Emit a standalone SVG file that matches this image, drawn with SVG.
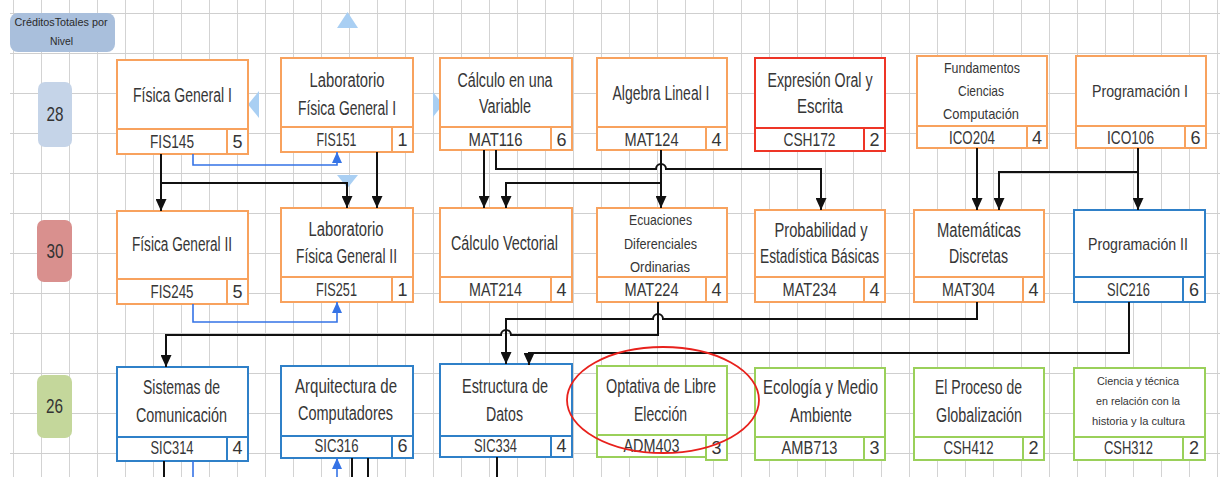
<svg xmlns="http://www.w3.org/2000/svg" width="1220" height="477" viewBox="0 0 1220 477">
<style>
.bx{fill:#fff;stroke-width:2}
.or{stroke:#f8a25e}
.rd{stroke:#ee3526}
.bl{stroke:#2f80c8}
.gr{stroke:#9ad05a}
.t{font-family:"Liberation Sans Narrow","Liberation Sans",Arial,sans-serif;fill:#363636;text-anchor:middle}
.tl{font-size:19.5px}
.tm{font-size:17px}
.ts{font-size:15px}
.tx{font-size:11px}
.cd{font-size:18px}
.lv{font-size:20px;fill:#333}
.hd{font-size:10.5px;fill:#2a2a2a}
.k{fill:none;stroke:#111;stroke-width:2;marker-end:url(#ak)}
.kn{fill:none;stroke:#111;stroke-width:2}
.b{fill:none;stroke:#3573e6;stroke-width:1.6;marker-end:url(#ab)}
.bn{fill:none;stroke:#3573e6;stroke-width:1.6}
.hdl{fill:#a9cff3}
</style>
<defs>
<pattern id="grid" patternUnits="userSpaceOnUse" x="13" y="13" width="28" height="40">
<path d="M0,0 V40 M0,0 H28" fill="none" stroke="#cfcfcf" stroke-width="1.8"/>
</pattern>
<marker id="ak" markerUnits="userSpaceOnUse" markerWidth="13" markerHeight="11" refX="12" refY="5.5" orient="auto">
<path d="M0,0 L12,5.5 L0,11 z" fill="#111"/>
</marker>
<marker id="ab" markerUnits="userSpaceOnUse" markerWidth="12" markerHeight="10" refX="11" refY="5" orient="auto">
<path d="M0,0 L11,5 L0,10 z" fill="#3573e6"/>
</marker>
</defs>
<rect width="1220" height="477" fill="#fff"/>
<rect x="10" y="0" width="1210" height="477" fill="url(#grid)"/>

<g id="levels">
<g id="header">
<rect x="10" y="13" width="105" height="39" rx="8" fill="#a9bfdc"/>
<text class="t hd" x="61" y="26" textLength="93" lengthAdjust="spacingAndGlyphs">CréditosTotales por</text>
<text class="t hd" x="61.5" y="45" textLength="23" lengthAdjust="spacingAndGlyphs">Nivel</text>
</g>
<g id="lvl28"><rect x="38" y="82" width="34" height="65" rx="7" fill="#c5d4e8"/><text class="t lv" x="55" y="121" textLength="17" lengthAdjust="spacingAndGlyphs">28</text></g>
<g id="lvl30"><rect x="37" y="220" width="35" height="62" rx="7" fill="#d9908e"/><text class="t lv" x="55" y="258" textLength="17" lengthAdjust="spacingAndGlyphs">30</text></g>
<g id="lvl26"><rect x="37" y="375" width="35" height="63" rx="7" fill="#c4d79b"/><text class="t lv" x="54.5" y="413" textLength="17" lengthAdjust="spacingAndGlyphs">26</text></g>
</g>

<g id="handles">
<polygon class="hdl" points="337,28 358,28 347.5,12"/>
<polygon class="hdl" points="259,91 259,118 248,104.5"/>
<polygon class="hdl" points="433,92 433,117 443,104.5"/>
<polygon class="hdl" points="337,175 358,175 347.5,188"/>
</g>

<!-- Row 1 -->
<g id="FIS145">
<rect class="bx or" x="117" y="60" width="131" height="94"/>
<path class="or" d="M117,129 H248 M227,129 V154" stroke-width="2" fill="none"/>
<text class="t tl" x="182.5" y="102" textLength="99" lengthAdjust="spacingAndGlyphs">Física General I</text>
<text class="t cd" x="172" y="148" textLength="44" lengthAdjust="spacingAndGlyphs">FIS145</text>
<text class="t cd" x="237.5" y="148">5</text>
</g>
<g id="FIS151">
<rect class="bx or" x="281" y="58" width="132" height="94"/>
<path class="or" d="M281,127 H413 M392,127 V152" stroke-width="2" fill="none"/>
<text class="t tl" x="347" y="87" textLength="75" lengthAdjust="spacingAndGlyphs">Laboratorio</text>
<text class="t tl" x="347" y="115" textLength="98" lengthAdjust="spacingAndGlyphs">Física General I</text>
<text class="t cd" x="336.5" y="146" textLength="40" lengthAdjust="spacingAndGlyphs">FIS151</text>
<text class="t cd" x="402.5" y="146">1</text>
</g>
<g id="MAT116">
<rect class="bx or" x="440" y="58" width="132" height="92"/>
<path class="or" d="M440,127 H572 M551,127 V150" stroke-width="2" fill="none"/>
<text class="t tl" x="505" y="87" textLength="95" lengthAdjust="spacingAndGlyphs">Cálculo en una</text>
<text class="t tl" x="505" y="113" textLength="52" lengthAdjust="spacingAndGlyphs">Variable</text>
<text class="t cd" x="495.5" y="146" textLength="54" lengthAdjust="spacingAndGlyphs">MAT116</text>
<text class="t cd" x="561.5" y="146">6</text>
</g>
<g id="MAT124">
<rect class="bx or" x="597" y="58" width="130" height="92"/>
<path class="or" d="M597,127 H727 M706,127 V150" stroke-width="2" fill="none"/>
<text class="t tl" x="661" y="100" textLength="97" lengthAdjust="spacingAndGlyphs">Algebra Lineal I</text>
<text class="t cd" x="651.5" y="146" textLength="54" lengthAdjust="spacingAndGlyphs">MAT124</text>
<text class="t cd" x="716.5" y="146">4</text>
</g>
<g id="CSH172">
<rect class="bx rd" x="755" y="58" width="130" height="93"/>
<path class="rd" d="M755,128 H885 M864,128 V151" stroke-width="2" fill="none"/>
<text class="t tl" x="820" y="87" textLength="105" lengthAdjust="spacingAndGlyphs">Expresión Oral y</text>
<text class="t tl" x="820" y="113" textLength="46" lengthAdjust="spacingAndGlyphs">Escrita</text>
<text class="t cd" x="809.5" y="146" textLength="52" lengthAdjust="spacingAndGlyphs">CSH172</text>
<text class="t cd" x="874.5" y="146">2</text>
</g>
<g id="ICO204">
<rect class="bx or" x="917" y="56" width="130" height="92"/>
<path class="or" d="M917,126 H1047 M1027,126 V148" stroke-width="2" fill="none"/>
<text class="t ts" x="982" y="73" textLength="76" lengthAdjust="spacingAndGlyphs">Fundamentos</text>
<text class="t ts" x="981" y="96" textLength="46" lengthAdjust="spacingAndGlyphs">Ciencias</text>
<text class="t ts" x="981" y="119" textLength="76" lengthAdjust="spacingAndGlyphs">Computación</text>
<text class="t cd" x="972" y="144" textLength="46" lengthAdjust="spacingAndGlyphs">ICO204</text>
<text class="t cd" x="1037" y="144">4</text>
</g>
<g id="ICO106">
<rect class="bx or" x="1076" y="56" width="130" height="92"/>
<path class="or" d="M1076,126 H1206 M1185,126 V148" stroke-width="2" fill="none"/>
<text class="t tm" x="1140" y="97" textLength="96" lengthAdjust="spacingAndGlyphs">Programación I</text>
<text class="t cd" x="1130.5" y="144" textLength="47" lengthAdjust="spacingAndGlyphs">ICO106</text>
<text class="t cd" x="1195.5" y="144">6</text>
</g>

<!-- Row 2 -->
<g id="FIS245">
<rect class="bx or" x="117" y="211" width="131" height="93"/>
<path class="or" d="M117,279 H248 M227,279 V304" stroke-width="2" fill="none"/>
<text class="t tl" x="182" y="251" textLength="100" lengthAdjust="spacingAndGlyphs">Física General II</text>
<text class="t cd" x="172" y="298" textLength="43" lengthAdjust="spacingAndGlyphs">FIS245</text>
<text class="t cd" x="237.5" y="298">5</text>
</g>
<g id="FIS251">
<rect class="bx or" x="281" y="208" width="132" height="94"/>
<path class="or" d="M281,277 H413 M392,277 V302" stroke-width="2" fill="none"/>
<text class="t tl" x="346" y="236" textLength="75" lengthAdjust="spacingAndGlyphs">Laboratorio</text>
<text class="t tl" x="346.5" y="263" textLength="101" lengthAdjust="spacingAndGlyphs">Física General II</text>
<text class="t cd" x="336.5" y="296" textLength="41" lengthAdjust="spacingAndGlyphs">FIS251</text>
<text class="t cd" x="402.5" y="296">1</text>
</g>
<g id="MAT214">
<rect class="bx or" x="440" y="208" width="132" height="94"/>
<path class="or" d="M440,277 H572 M551,277 V302" stroke-width="2" fill="none"/>
<text class="t tl" x="504.5" y="250" textLength="107" lengthAdjust="spacingAndGlyphs">Cálculo Vectorial</text>
<text class="t cd" x="495.5" y="296" textLength="53" lengthAdjust="spacingAndGlyphs">MAT214</text>
<text class="t cd" x="561.5" y="296">4</text>
</g>
<g id="MAT224">
<rect class="bx or" x="597" y="208" width="130" height="94"/>
<path class="or" d="M597,277 H727 M706,277 V302" stroke-width="2" fill="none"/>
<text class="t ts" x="660.5" y="225" textLength="63" lengthAdjust="spacingAndGlyphs">Ecuaciones</text>
<text class="t ts" x="660.5" y="249" textLength="73" lengthAdjust="spacingAndGlyphs">Diferenciales</text>
<text class="t ts" x="660" y="272" textLength="60" lengthAdjust="spacingAndGlyphs">Ordinarias</text>
<text class="t cd" x="651.5" y="296" textLength="54" lengthAdjust="spacingAndGlyphs">MAT224</text>
<text class="t cd" x="716.5" y="296">4</text>
</g>
<g id="MAT234">
<rect class="bx or" x="755" y="210" width="130" height="92"/>
<path class="or" d="M755,277 H885 M864,277 V302" stroke-width="2" fill="none"/>
<text class="t tl" x="821" y="237" textLength="93" lengthAdjust="spacingAndGlyphs">Probabilidad y</text>
<text class="t tl" x="819.5" y="263" textLength="119" lengthAdjust="spacingAndGlyphs">Estadística Básicas</text>
<text class="t cd" x="809.5" y="296" textLength="54" lengthAdjust="spacingAndGlyphs">MAT234</text>
<text class="t cd" x="874.5" y="296">4</text>
</g>
<g id="MAT304">
<rect class="bx or" x="914" y="210" width="130" height="92"/>
<path class="or" d="M914,277 H1044 M1023,277 V302" stroke-width="2" fill="none"/>
<text class="t tl" x="979" y="237" textLength="84" lengthAdjust="spacingAndGlyphs">Matemáticas</text>
<text class="t tl" x="978.5" y="263" textLength="59" lengthAdjust="spacingAndGlyphs">Discretas</text>
<text class="t cd" x="968.5" y="296" textLength="53" lengthAdjust="spacingAndGlyphs">MAT304</text>
<text class="t cd" x="1033.5" y="296">4</text>
</g>
<g id="SIC216">
<rect class="bx bl" x="1074" y="210" width="131" height="92"/>
<path class="bl" d="M1074,277 H1205 M1183,277 V302" stroke-width="2" fill="none"/>
<text class="t tm" x="1138" y="250" textLength="100" lengthAdjust="spacingAndGlyphs">Programación II</text>
<text class="t cd" x="1128.5" y="296" textLength="43" lengthAdjust="spacingAndGlyphs">SIC216</text>
<text class="t cd" x="1194" y="296">6</text>
</g>

<!-- Row 3 -->
<g id="SIC314">
<rect class="bx bl" x="117" y="367" width="131" height="94"/>
<path class="bl" d="M117,437 H248 M227,437 V461" stroke-width="2" fill="none"/>
<text class="t tl" x="181.5" y="394" textLength="77" lengthAdjust="spacingAndGlyphs">Sistemas de</text>
<text class="t tl" x="181.5" y="422" textLength="91" lengthAdjust="spacingAndGlyphs">Comunicación</text>
<text class="t cd" x="172" y="454" textLength="43" lengthAdjust="spacingAndGlyphs">SIC314</text>
<text class="t cd" x="237.5" y="454">4</text>
</g>
<g id="SIC316">
<rect class="bx bl" x="281" y="366" width="132" height="92"/>
<path class="bl" d="M281,436 H413 M392,436 V458" stroke-width="2" fill="none"/>
<text class="t tl" x="346" y="393" textLength="102" lengthAdjust="spacingAndGlyphs">Arquitectura de</text>
<text class="t tl" x="345.5" y="420" textLength="95" lengthAdjust="spacingAndGlyphs">Computadores</text>
<text class="t cd" x="336.5" y="452" textLength="44" lengthAdjust="spacingAndGlyphs">SIC316</text>
<text class="t cd" x="402.5" y="452">6</text>
</g>
<g id="SIC334">
<rect class="bx bl" x="440" y="364" width="132" height="93"/>
<path class="bl" d="M440,436 H572 M551,436 V457" stroke-width="2" fill="none"/>
<text class="t tl" x="505" y="393" textLength="86" lengthAdjust="spacingAndGlyphs">Estructura de</text>
<text class="t tl" x="504.5" y="421" textLength="37" lengthAdjust="spacingAndGlyphs">Datos</text>
<text class="t cd" x="495.5" y="452" textLength="43" lengthAdjust="spacingAndGlyphs">SIC334</text>
<text class="t cd" x="561.5" y="452">4</text>
</g>
<g id="ADM403">
<rect class="bx gr" x="597" y="366" width="130" height="91"/>
<path class="gr" d="M597,435 H727" stroke-width="2" fill="none"/>
<rect class="bx gr" x="706" y="435" width="21" height="25"/>
<text class="t tl" x="661" y="393" textLength="110" lengthAdjust="spacingAndGlyphs">Optativa de Libre</text>
<text class="t tl" x="660.5" y="421" textLength="53" lengthAdjust="spacingAndGlyphs">Elección</text>
<text class="t cd" x="651.5" y="452" textLength="56" lengthAdjust="spacingAndGlyphs">ADM403</text>
<text class="t cd" x="716.5" y="454">3</text>
</g>
<g id="AMB713">
<rect class="bx gr" x="755" y="368" width="130" height="92"/>
<path class="gr" d="M755,437 H885 M864,437 V460" stroke-width="2" fill="none"/>
<text class="t tl" x="820.5" y="394" textLength="115" lengthAdjust="spacingAndGlyphs">Ecología y Medio</text>
<text class="t tl" x="821" y="422" textLength="62" lengthAdjust="spacingAndGlyphs">Ambiente</text>
<text class="t cd" x="809.5" y="454" textLength="56" lengthAdjust="spacingAndGlyphs">AMB713</text>
<text class="t cd" x="874.5" y="454">3</text>
</g>
<g id="CSH412">
<rect class="bx gr" x="914" y="368" width="130" height="92"/>
<path class="gr" d="M914,437 H1044 M1023,437 V460" stroke-width="2" fill="none"/>
<text class="t tl" x="978.5" y="394" textLength="87" lengthAdjust="spacingAndGlyphs">El Proceso de</text>
<text class="t tl" x="979" y="422" textLength="86" lengthAdjust="spacingAndGlyphs">Globalización</text>
<text class="t cd" x="968.5" y="454" textLength="50" lengthAdjust="spacingAndGlyphs">CSH412</text>
<text class="t cd" x="1033.5" y="454">2</text>
</g>
<g id="CSH312">
<rect class="bx gr" x="1074" y="368" width="131" height="92"/>
<path class="gr" d="M1074,437 H1205 M1183,437 V460" stroke-width="2" fill="none"/>
<text class="t tx" x="1138" y="385" textLength="82" lengthAdjust="spacingAndGlyphs">Ciencia y técnica</text>
<text class="t tx" x="1138" y="405" textLength="84" lengthAdjust="spacingAndGlyphs">en relación con la</text>
<text class="t tx" x="1138.5" y="425" textLength="93" lengthAdjust="spacingAndGlyphs">historia y la cultura</text>
<text class="t cd" x="1128.5" y="454" textLength="49" lengthAdjust="spacingAndGlyphs">CSH312</text>
<text class="t cd" x="1194" y="454">2</text>
</g>

<g id="connectors">
<path class="k" d="M161,154 V211"/>
<path class="k" d="M161,183 H347 V208"/>
<path class="k" d="M377,152 V208"/>
<path class="k" d="M484,150 V208"/>
<path class="k" d="M496,150 V169 H656 A5 5 0 0 1 666,169 H821 V210"/>
<path class="k" d="M661,150 V208"/>
<path class="k" d="M661,183 H506 V208"/>
<path class="k" d="M977,148 V210"/>
<path class="k" d="M1138,148 V172 H999 V210"/>
<path class="k" d="M1138,148 V210"/>
<path class="k" d="M658,302 V335 H511 A5 5 0 0 0 501,335 H166 V367"/>
<path class="k" d="M977,302 V319 H663 A5 5 0 0 0 653,319 H506 V364"/>
<path class="k" d="M1129,302 V353 H529 V365"/>
<path class="kn" d="M164,461 V477 M352,458 V477 M368,458 V477 M497,457 V477"/>
<path class="b" d="M193,154 V165 H337 V152"/>
<path class="b" d="M193,304 V322 H337 V302"/>
<path class="bn" d="M193,461 V477"/>
<path class="b" d="M337,477 V458"/>
</g>

<ellipse id="highlight" cx="663" cy="400" rx="96" ry="53" fill="none" stroke="#e8211c" stroke-width="1.8"/>
</svg>
